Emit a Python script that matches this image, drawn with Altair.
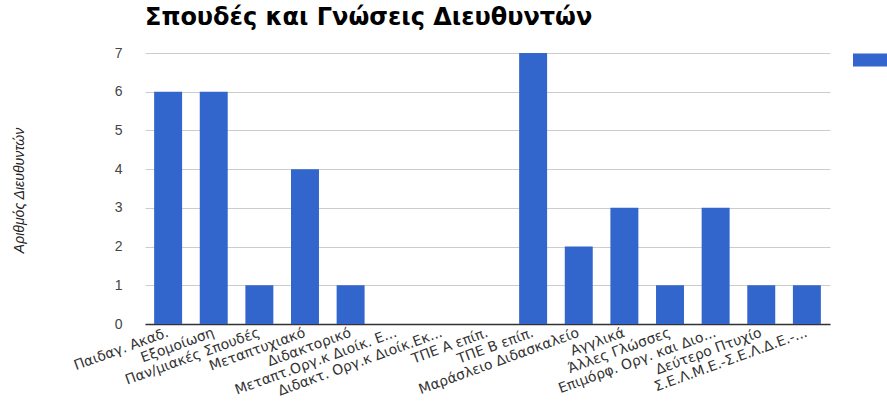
import altair as alt
import pandas as pd

# Studies and qualifications of school principals
categories = [
    "Παιδαγ. Ακαδ.",
    "Εξομοίωση",
    "Παν/μιακές Σπουδές",
    "Μεταπτυχιακό",
    "Διδακτορικό",
    "Μεταπτ.Οργ.κ Διοίκ. Ε...",
    "Διδακτ. Οργ.κ Διοίκ.Εκ...",
    "ΤΠΕ Α επίπ.",
    "ΤΠΕ Β επίπ.",
    "Μαράσλειο Διδασκαλείο",
    "Αγγλικά",
    "Άλλες Γλώσσες",
    "Επιμόρφ. Οργ. και Διο...",
    "Δεύτερο Πτυχίο",
    "Σ.Ε.Λ.Μ.Ε.-Σ.Ε.Λ.Δ.Ε.-...",
]
counts = [6, 6, 1, 4, 1, 0, 0, 0, 7, 2, 3, 1, 3, 1, 1]
series_name = "Αριθμός Διευθυντών"

df = pd.DataFrame({"category": categories, "count": counts, "series": series_name})

bars = alt.Chart(df).mark_bar(color="#3366CC").encode(
    x=alt.X(
        "category:N",
        sort=categories,
        title=None,
        scale=alt.Scale(paddingInner=0.387, paddingOuter=0.2),
        axis=alt.Axis(
            labelAngle=-20,
            labelAlign="right",
            labelBaseline="middle",
            labelFont="DejaVu Sans",
            labelFontSize=14,
            labelColor="#333333",
            labelPadding=8,
            ticks=False,
            domainColor="#333333",
            domainWidth=1.5,
            grid=False,
            labelOverlap=False,
            labelLimit=0,
        ),
    ),
    y=alt.Y(
        "count:Q",
        scale=alt.Scale(domain=[0, 7], nice=False),
        axis=alt.Axis(
            values=[0, 1, 2, 3, 4, 5, 6, 7],
            title=series_name,
            titleFont="Liberation Sans",
            titleFontStyle="italic",
            titleFontWeight="normal",
            titleFontSize=14,
            titleColor="#222222",
            titleX=-126,
            titleY=137,
            titleAlign="center",
            titleBaseline="middle",
            labelFont="Liberation Sans",
            labelFontSize=14,
            labelColor="#444444",
            labelPadding=23,
            ticks=False,
            domain=False,
            gridColor="#cccccc",
        ),
    ),
    color=alt.Color(
        "series:N",
        scale=alt.Scale(range=["#3366CC"]),
        legend=alt.Legend(
            title=None,
            orient="none",
            legendX=708,
            legendY=-11,
            symbolType="M-1,-0.36H1V0.36H-1Z",
            symbolSize=1296,
            symbolStrokeWidth=0,
            symbolOpacity=1,
            labelExpr="''",
            labelFont="Liberation Sans",
            labelFontSize=13,
        ),
    ),
)

chart = bars.properties(
    width=685,
    height=271,
    title=alt.TitleParams(
        "Σπουδές και Γνώσεις Διευθυντών",
        anchor="start",
        frame="group",
        font="DejaVu Sans",
        fontSize=24,
        fontWeight="bold",
        color="#000000",
        baseline="alphabetic",
        offset=20,
        dy=27,
    ),
    autosize=alt.AutoSizeParams(type="none"),
    padding={"left": 145, "top": 53, "right": 57, "bottom": 90},
).configure_view(stroke=None)

chart.save("out.html", embed_options={"renderer": "svg", "actions": False})
